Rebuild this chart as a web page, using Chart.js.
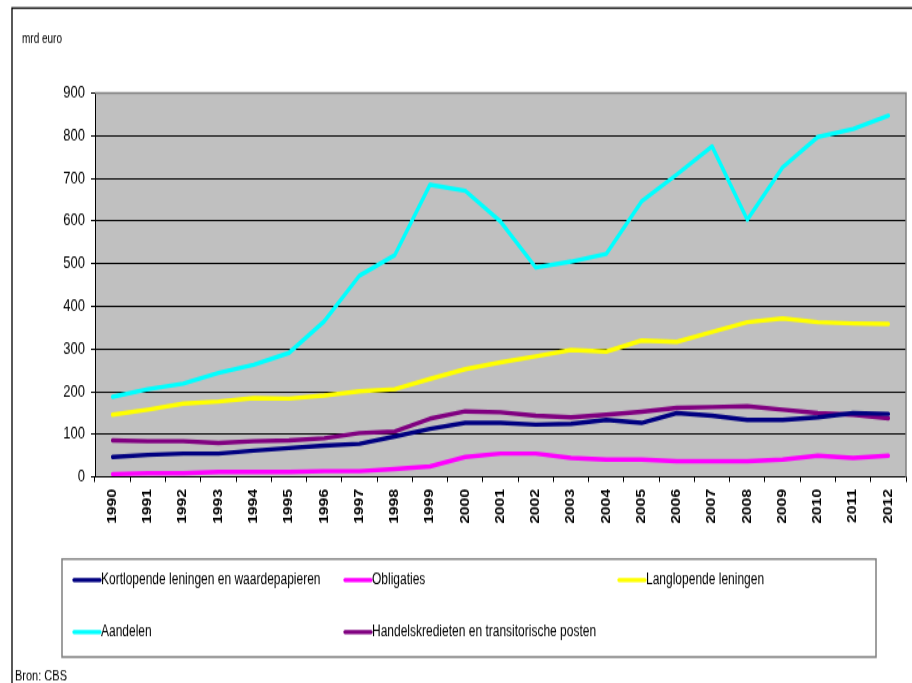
<!DOCTYPE html>
<html lang="nl">
<head>
<meta charset="UTF-8">
<title>Financiële activa</title>
<script src="https://cdn.jsdelivr.net/npm/chart.js"></script>
<style>
  html, body { margin: 0; padding: 0; background: #fff; }
  /* the source picture is stretched vertically; draw at 912x525 and stretch to 683 */
  #chart { display: block; width: 912px; height: 683px; }
</style>
</head>
<body>
<canvas id="chart" width="912" height="525" style="width:912px;height:683px"></canvas>
<script>
// data (mrd euro)
const years = ['1990','1991','1992','1993','1994','1995','1996','1997','1998','1999','2000',
               '2001','2002','2003','2004','2005','2006','2007','2008','2009','2010','2011','2012'];
const kortlopend = [47, 52, 55, 55, 62, 68, 74, 78, 95, 113, 127, 127, 123, 125, 134, 127, 150, 144, 134, 134, 140, 150, 148];
const obligaties = [7, 9, 9, 12, 12, 12, 14, 14, 19, 25, 47, 55, 55, 45, 41, 41, 37, 37, 37, 41, 50, 45, 50];
const langlopend = [146, 158, 172, 177, 185, 184, 191, 201, 206, 230, 253, 269, 283, 298, 294, 320, 317, 340, 363, 372, 363, 360, 359];
const aandelen = [188, 206, 219, 244, 263, 291, 365, 472, 520, 685, 671, 599, 491, 505, 523, 646, 709, 775, 603, 726, 797, 816, 847];
const handelskrediet = [86, 84, 84, 80, 84, 86, 91, 103, 107, 137, 154, 152, 144, 140, 146, 153, 162, 164, 166, 158, 150, 146, 138];

const seriesNames = ['Kortlopende leningen en waardepapieren', 'Obligaties', 'Langlopende leningen',
                     'Aandelen', 'Handelskredieten en transitorische posten'];
const seriesColors = ['#000080', '#FF00FF', '#FFFF00', '#00FFFF', '#800080'];
const seriesValues = [kortlopend, obligaties, langlopend, aandelen, handelskrediet];

const FONT = "'Liberation Sans', Arial, sans-serif";

// plot background, outer frame, unit label, legend box, source
const decor = {
    id: 'decor',
    beforeDraw(chart) {
        const { ctx, chartArea: a } = chart;
        ctx.save();
        ctx.fillStyle = '#fff';
        ctx.fillRect(0, 0, chart.width, chart.height);
        ctx.fillStyle = '#C0C0C0';
        ctx.fillRect(a.left, a.top, a.right - a.left, a.bottom - a.top);
        ctx.restore();
    },
    afterDraw(chart) {
        const { ctx, chartArea: a } = chart;
        ctx.save();
        // plot border top/right
        ctx.strokeStyle = '#808080';
        ctx.lineWidth = 1.5;
        ctx.beginPath();
        ctx.moveTo(a.left, a.top);
        ctx.lineTo(a.right, a.top);
        ctx.lineTo(a.right, a.bottom);
        ctx.stroke();
        // outer frame
        ctx.strokeStyle = '#000';
        ctx.lineWidth = 1.3;
        ctx.beginPath();
        ctx.moveTo(912, 6.2);
        ctx.lineTo(12, 6.2);
        ctx.lineTo(12, 525);
        ctx.stroke();
        // unit + source
        ctx.fillStyle = '#000';
        ctx.font = '10px ' + FONT;
        ctx.textBaseline = 'middle';
        ctx.textAlign = 'left';
        ctx.fillText('mrd euro', 22, 30);
        ctx.font = '11px ' + FONT;
        ctx.fillText('Bron: CBS', 15, 519.5);
        // legend
        ctx.strokeStyle = '#808080';
        ctx.lineWidth = 1.5;
        ctx.strokeRect(62, 429.7, 814, 75.3);
        const cols = [72, 343, 617];
        const rows = [445.8, 485.8];
        ctx.font = '12px ' + FONT;
        chart.data.datasets.forEach((ds, i) => {
            const x = cols[i % 3];
            const y = rows[Math.floor(i / 3)];
            ctx.strokeStyle = ds.borderColor;
            ctx.lineWidth = 3.3;
            ctx.lineCap = 'round';
            ctx.beginPath();
            ctx.moveTo(x + 2, y);
            ctx.lineTo(x + 28, y);
            ctx.stroke();
            ctx.fillStyle = '#000';
            ctx.fillText(ds.label, x + 29, y);
        });
        ctx.restore();
    }
};

new Chart(document.getElementById('chart'), {
    type: 'line',
    data: {
        labels: years,
        datasets: seriesNames.map((name, i) => ({
            label: name,
            data: seriesValues[i],
            borderColor: seriesColors[i],
            backgroundColor: seriesColors[i],
            borderWidth: 3.4,
            borderJoinStyle: 'round',
            borderCapStyle: 'round',
            pointRadius: 0,
            tension: 0,
            fill: false
        }))
    },
    options: {
        responsive: false,
        animation: false,
        devicePixelRatio: 1,
        layout: { padding: { top: 71.5, right: 6, bottom: 112.3, left: 0 } },
        plugins: { legend: { display: false }, tooltip: { enabled: false } },
        scales: {
            x: {
                offset: true,
                grid: { offset: true, drawOnChartArea: false, tickLength: 3.8, color: '#000' },
                border: { color: '#000', width: 1 },
                ticks: { color: '#000', font: { family: FONT, size: 12, weight: 'bold' }, minRotation: 90, maxRotation: 90, padding: 5.4, autoSkip: false },
                afterFit(s) { s.height = 46; }
            },
            y: {
                min: 0, max: 900,
                grid: {
                    color: c => c.tick && c.tick.value === 900 ? '#808080' : '#000',
                    tickColor: '#000',
                    tickLength: 4,
                    lineWidth: 1
                },
                border: { color: '#000', width: 1 },
                ticks: { stepSize: 100, color: '#000', font: { family: FONT, size: 13 }, padding: 6 },
                afterFit(s) { s.width = 95; }
            }
        }
    },
    plugins: [decor]
});
</script>
</body>
</html>
